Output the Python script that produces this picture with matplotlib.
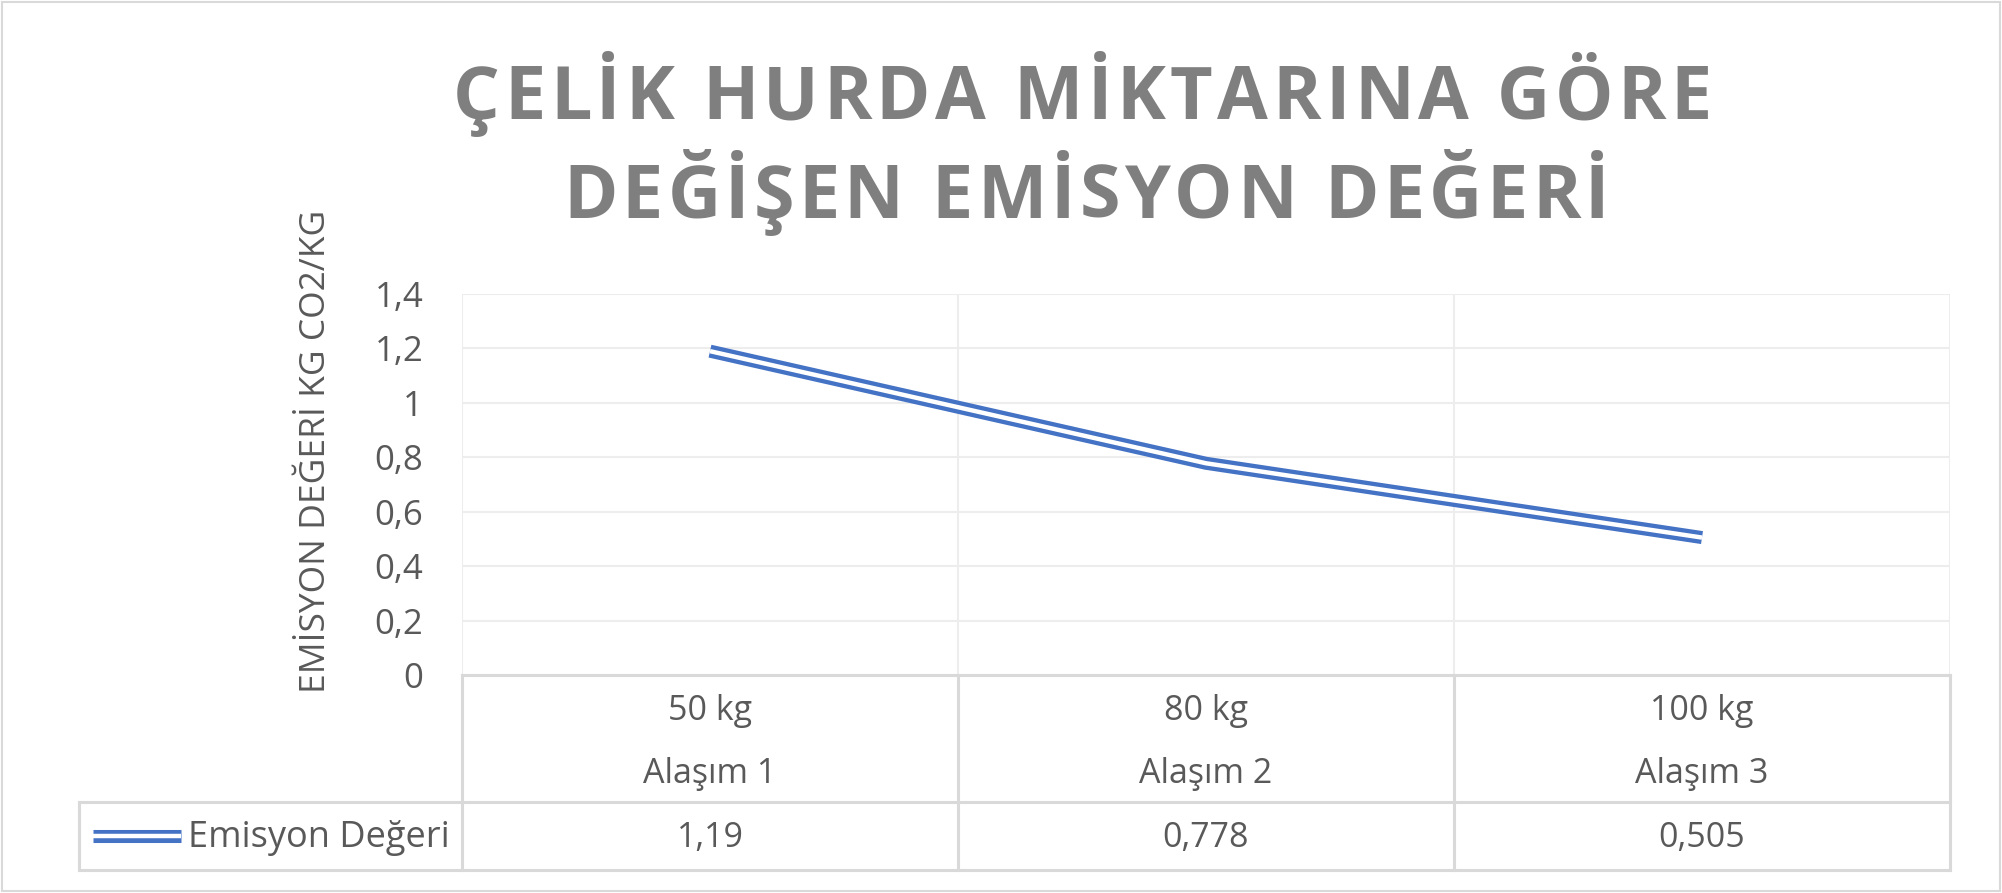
import matplotlib
matplotlib.use('Agg')
import matplotlib.pyplot as plt
from matplotlib.patches import Rectangle
from matplotlib.transforms import blended_transform_factory

plt.rcParams['font.family'] = ['Open Sans', 'DejaVu Sans']

# data
categories_kg = ['50 kg', '80 kg', '100 kg']
categories_alloy = ['Alaşım 1', 'Alaşım 2', 'Alaşım 3']
emission = [1.19, 0.778, 0.505]
value_labels = ['1,19', '0,778', '0,505']
series_name = 'Emisyon Değeri'
y_ticks = [0, 0.2, 0.4, 0.6, 0.8, 1.0, 1.2, 1.4]
y_tick_labels = ['0', '0,2', '0,4', '0,6', '0,8', '1', '1,2', '1,4']
title_lines = ['ÇELİK HURDA MİKTARINA GÖRE', 'DEĞİŞEN EMİSYON DEĞERİ']
y_label = 'EMİSYON DEĞERİ KG CO2/KG'

BLUE = '#4472C4'
TEXT = '#595959'
TITLE = '#7F7F7F'
GRID = '#EDEDED'
TABLE = '#D9D9D9'

W, H = 2002, 893
fig = plt.figure(figsize=(W / 100, H / 100), dpi=100)

# chart border
fig.patches.append(Rectangle((2 / W, 2 / H), 1 - 4 / W, 1 - 4 / H, transform=fig.transFigure,
                             fill=False, edgecolor=TABLE, lw=1.5))

# plot area in pixels: x 462..1950, y 294..675
ax = fig.add_axes([462 / W, 1 - 675 / H, 1488 / W, 381 / H])
x = list(range(len(emission)))
ax.set_xlim(-0.5, len(emission) - 0.5)
ax.set_ylim(0, 1.4)
for s in ax.spines.values():
    s.set_visible(False)

ax.set_yticks(y_ticks)
ax.set_yticklabels(y_tick_labels)
ax.tick_params(axis='y', length=0, pad=28, labelsize=25, labelcolor=TEXT)
ax.set_xticks([])
for t in y_ticks[1:]:
    ax.axhline(t, color=GRID, lw=1.5, zorder=0)
for b in [-0.5, 0.5, 1.5, 2.5]:
    ax.axvline(b, color=GRID, lw=1.5, zorder=0)

# compound (double) line
ax.plot(x, emission, color=BLUE, lw=9.4, solid_capstyle='butt', solid_joinstyle='miter', zorder=3)
ax.plot(x, emission, color='white', lw=3.2, solid_capstyle='butt', solid_joinstyle='miter', zorder=4)

# data table below the plot
tr = blended_transform_factory(ax.transData, ax.transAxes)
row1 = -127 / 381
row2 = -195 / 381
leg_left = -0.5 - (462 - 79) / 496
kw = dict(transform=tr, color=TABLE, lw=2.2, clip_on=False, zorder=2)
ax.plot([-0.5, 2.5], [0, 0], **kw)
ax.plot([leg_left, 2.5], [row1, row1], **kw)
ax.plot([leg_left, 2.5], [row2, row2], **kw)
for b in [-0.5, 0.5, 1.5, 2.5]:
    ax.plot([b, b], [0, row2], **kw)
ax.plot([leg_left, leg_left], [row1, row2], **kw)

for i in x:
    ax.text(i, -45 / 381, categories_kg[i], transform=tr, ha='center', va='baseline',
            fontsize=24.5, color=TEXT)
    ax.text(i, -108 / 381, categories_alloy[i], transform=tr, ha='center', va='baseline',
            fontsize=24.5, color=TEXT)
    ax.text(i, -172 / 381, value_labels[i], transform=tr, ha='center', va='baseline',
            fontsize=24.5, color=TEXT)

# legend key inside the table
key_y = -(836 - 675) / 381
key_x = [-0.5 - (462 - 93) / 496, -0.5 - (462 - 181) / 496]
ax.plot(key_x, [key_y, key_y], transform=tr, color=BLUE, lw=9.4, solid_capstyle='butt', clip_on=False)
ax.plot(key_x, [key_y, key_y], transform=tr, color='white', lw=3.2, solid_capstyle='butt', clip_on=False)
ax.text(-0.5 - 12 / 496, -172 / 381, series_name, transform=tr, ha='right', va='baseline',
        fontsize=26, color=TEXT)

# y axis title
fig.text(316 / W, 1 - 451 / H, y_label, rotation=90, ha='center', va='center', fontsize=25.5, color=TEXT)


def spaced_text(s, x0, x1, y, **kw):
    # draw text letter by letter so it spans x0..x1 pixels (letter spacing)
    r = fig.canvas.get_renderer()

    def width(txt):
        t = fig.text(0, 0, txt, **kw)
        w = t.get_window_extent(r).width
        t.remove()
        return w

    base = width('HH')
    adv = [width('H' + c + 'H') - base for c in s]
    gap = ((x1 - x0) - sum(adv)) / (len(s) - 1)
    pos = x0
    for c, a in zip(s, adv):
        fig.text(pos / W, y, c, ha='left', va='baseline', **kw)
        pos += a + gap


title_kw = dict(fontsize=53, fontweight='bold', color=TITLE)
spaced_text(title_lines[0], 453, 1712, 1 - 119 / H, **title_kw)
spaced_text(title_lines[1], 563, 1609, 1 - 218 / H, **title_kw)

fig.savefig('out.png', dpi=100)
